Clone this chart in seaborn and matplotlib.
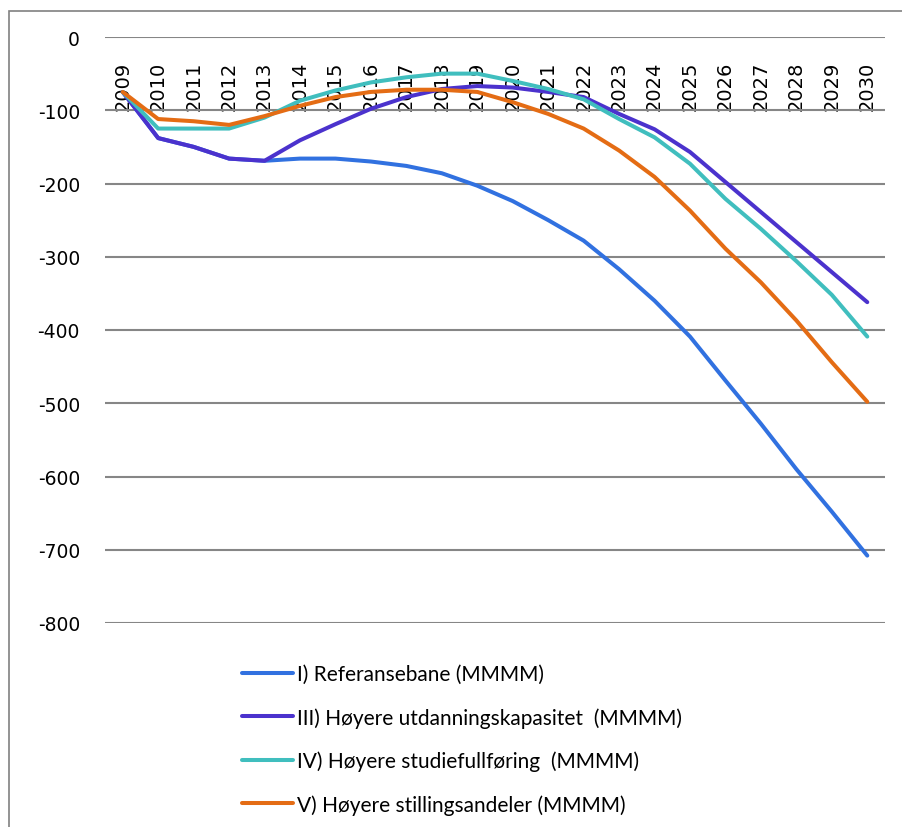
import matplotlib
matplotlib.use("Agg")
import matplotlib.pyplot as plt
import matplotlib.patches as mpatches
import pandas as pd
import seaborn as sns

years = [2009, 2010, 2011, 2012, 2013, 2014, 2015, 2016, 2017, 2018, 2019,
         2020, 2021, 2022, 2023, 2024, 2025, 2026, 2027, 2028, 2029, 2030]

ref = [-75, -138, -150, -166, -169, -166, -166, -170, -176, -186, -203,
       -224, -250, -278, -317, -360, -409, -469, -528, -590, -648, -708]
utd = [-75, -138, -150, -166, -169, -141, -119, -98, -82, -71, -67,
       -69, -75, -82, -105, -126, -157, -198, -239, -280, -321, -362]
stud = [-75, -125, -125, -125, -110, -87, -73, -62, -55, -50, -50,
        -60, -71, -85, -112, -137, -173, -221, -262, -306, -352, -409]
still = [-75, -112, -115, -120, -108, -94, -82, -75, -72, -72, -75,
         -89, -105, -125, -155, -191, -237, -289, -335, -387, -444, -498]

labels = ["I) Referansebane (MMMM)",
          "III) Høyere utdanningskapasitet  (MMMM)",
          "IV) Høyere studiefullføring  (MMMM)",
          "V) Høyere stillingsandeler (MMMM)"]
colors = ["#3171E0", "#4B32CD", "#40BEBE", "#E46C14"]

rows = []
for lab, vals in zip(labels, [ref, utd, stud, still]):
    for y, v in zip(years, vals):
        rows.append({"year": y, "value": v, "series": lab})
df = pd.DataFrame(rows)

sns.set_style("white")
plt.rcParams["font.family"] = ["DejaVu Sans"]
plt.rcParams["axes.unicode_minus"] = False

fig = plt.figure(figsize=(9.02, 8.28), dpi=100)
ax = fig.add_axes([105 / 902, 1 - 624 / 828, 780 / 902, 586 / 828])

sns.lineplot(data=df, x="year", y="value", hue="series", palette=colors,
             hue_order=labels, linewidth=2.9, ax=ax,
             solid_capstyle="round", solid_joinstyle="round")

# category axis crosses at 0, labels hang below that line
ax.spines["bottom"].set_position(("data", 0))
for s in ["left", "right", "top", "bottom"]:
    ax.spines[s].set_visible(False)

ax.set_xlim(2008.5, 2030.5)
ax.set_ylim(-800, 0)
ax.set_yticks(range(-800, 1, 100))
ax.set_xticks(years)
ax.set_xticklabels([str(y) for y in years])
ax.yaxis.grid(True, color="#868686", linewidth=1.5)
ax.xaxis.grid(False)
ax.set_axisbelow(True)
ax.tick_params(axis="x", length=0, pad=17, labelsize=14, labelrotation=90,
               labelcolor="black")
ax.tick_params(axis="y", length=0, pad=18, labelsize=13.5,
               labelcolor="black")
ax.set_xlabel("")
ax.set_ylabel("")

leg = ax.legend(loc="upper left", bbox_to_anchor=(242 / 902, 1 - 665 / 828),
                bbox_transform=fig.transFigure, frameon=False,
                borderaxespad=0, borderpad=0, handlelength=2.45,
                handletextpad=0.2, labelspacing=1.1,
                prop={"family": "Lato", "size": 15})
for t in leg.get_texts():
    t.set_color("black")

# outer frame, open at right and bottom
fig.add_artist(mpatches.Rectangle((9 / 902, -0.1), 1.2, 1 - 12 / 828 + 0.1,
                                  transform=fig.transFigure, fill=False,
                                  edgecolor="#808080", linewidth=1.2))

fig.savefig("out.png", dpi=100)
